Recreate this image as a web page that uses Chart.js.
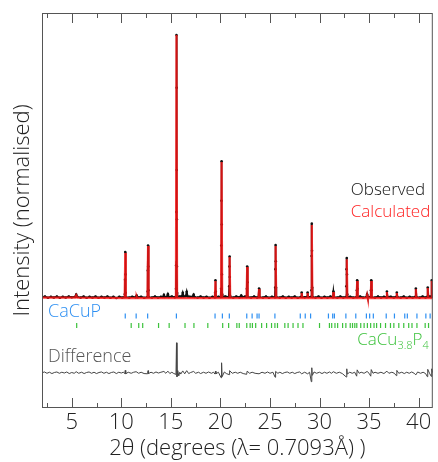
<!DOCTYPE html>
<html>
<head>
<meta charset="utf-8">
<script src="https://cdn.jsdelivr.net/npm/chart.js@4/dist/chart.umd.min.js"></script>
<style>
  html, body { margin: 0; padding: 0; background: #fff; }
  #holder { width: 438px; height: 462px; }
</style>
</head>
<body>
<div id="holder"><canvas id="rietveld"></canvas></div>
<script>
// 2theta (deg) vs intensity (% of strongest peak)
const xTickVals = [5, 10, 15, 20, 25, 30, 35, 40];

const calculated = [
  [2.0,0.2],[5.35,0.2],[5.45,1.0],[5.55,0.2],[10.34,0],[10.4,17.1],[10.46,0],[11.49,0],[11.55,0.6],[11.61,0],
  [12.64,0],[12.7,19.8],[12.76,0],[15.51,0],[15.57,100],[15.63,0],[19.44,0],[19.5,6.5],[19.56,0],
  [20.06,0],[20.12,51.7],[20.18,0],[20.87,0],[20.93,15.6],[20.99,0],[22.64,0],[22.7,11.8],[22.76,0],
  [23.84,0],[23.9,3.4],[23.96,0],[25.51,0],[25.57,19.8],[25.63,0],[28.14,0],[28.2,1.9],[28.26,0],
  [28.74,0],[28.8,1.9],[28.86,0],[29.16,0],[29.22,27.8],[29.28,0],[31.34,0],[31.4,2.3],[31.46,0],
  [32.69,0],[32.75,14.8],[32.81,0],[33.74,0],[33.8,6.5],[33.86,0],[34.74,0],[34.8,1.1],[34.86,0],
  [35.16,0],[35.22,6.5],[35.28,0],[36.74,0],[36.8,2.3],[36.86,0],[37.74,0],[37.8,1.9],[37.86,0],
  [39.66,0],[39.72,3.4],[39.78,0],[40.86,0],[40.92,3.8],[40.98,0],[41.26,0],[41.32,6.5],[41.43,0]
];

const observed = [
  [2.0,0.3],[2.3,0.6],[2.6,0.1],[2.9,0.5],[3.2,0.2],[3.5,0.6],[3.8,0.1],[4.1,0.5],[4.4,0.2],[4.7,0.6],
  [5.0,0.3],[5.35,0.5],[5.45,1.3],[5.55,0.5],[5.9,0.2],[6.2,0.6],[6.5,0.1],[6.8,0.5],[7.1,0.2],[7.4,0.6],
  [7.7,0.1],[8.0,0.5],[8.3,0.2],[8.6,0.6],[8.9,0.1],[9.2,0.5],[9.5,0.0],[9.8,0.5],[10.1,0.2],
  [10.33,0.4],[10.36,1.5],[10.38,7.0],[10.4,17.5],[10.42,9.0],[10.44,2.0],[10.47,0.4],
  [10.8,0.2],[11.1,0.5],[11.45,0.3],[11.55,1.0],[11.65,0.3],[12.0,0.5],[12.3,0.1],
  [12.63,0.4],[12.66,2.5],[12.68,10.5],[12.7,20.0],[12.72,12.0],[12.74,3.0],[12.77,0.4],
  [13.1,0.2],[13.4,0.6],[13.7,0.2],[14.0,0.5],[14.2,0.4],[14.3,1.2],[14.4,0.4],[14.6,0.5],[14.7,1.5],
  [14.8,0.4],[15.1,0.6],[15.4,0.3],
  [15.5,0.5],[15.52,3.5],[15.54,12.5],[15.555,32.7],[15.57,100],[15.585,80],[15.595,48.7],[15.605,30],
  [15.615,12],[15.63,2],[15.66,0.5],
  [15.9,0.6],[16.1,0.6],[16.2,2.0],[16.3,0.6],[16.5,0.7],[16.6,2.4],[16.7,0.6],[16.9,0.5],[17.2,0.5],
  [17.3,1.3],[17.4,0.4],[17.7,0.2],[18.0,0.6],[18.3,0.2],[18.6,0.5],[18.9,0.1],[19.2,0.5],
  [19.43,0.3],[19.47,2.0],[19.5,6.8],[19.53,2.5],[19.57,0.4],[19.8,0.5],[20.03,0.4],
  [20.07,3.5],[20.09,20],[20.105,37],[20.12,52],[20.135,28],[20.15,9],[20.17,1.5],[20.2,0.5],
  [20.5,0.6],[20.85,0.4],[20.89,4.5],[20.91,12],[20.93,15.8],[20.95,8],[20.97,1.0],[21.0,0.4],
  [21.3,0.2],[21.6,0.6],[21.9,0.3],[22.0,0.4],[22.1,1.0],[22.2,0.4],[22.5,0.6],
  [22.64,0.4],[22.67,3.5],[22.7,12.0],[22.73,6],[22.76,0.5],[23.1,0.2],[23.4,0.6],[23.7,0.2],
  [23.84,0.4],[23.9,3.6],[23.96,0.4],[24.3,0.2],[24.6,0.6],[24.9,0.1],[25.2,0.5],[25.5,0.3],
  [25.53,4],[25.55,11],[25.57,20.2],[25.59,14],[25.61,4],[25.64,0.4],[26.0,0.2],[26.3,0.6],[26.6,0.1],
  [26.9,0.5],[27.2,0.2],[27.5,0.6],[27.8,0.1],[28.14,0.5],[28.2,2.1],[28.26,0.4],[28.5,0.3],[28.74,0.5],
  [28.8,2.1],[28.86,0.4],[29.15,0.5],[29.18,3],[29.2,16],[29.22,28.3],[29.24,18],[29.26,4],[29.29,0.4],
  [29.6,0.2],[29.9,0.6],[30.2,0.1],[30.5,0.5],[30.8,0.2],[31.1,0.6],[31.34,0.3],[31.4,2.5],[31.46,0.4],
  [31.8,0.2],[32.1,0.6],[32.4,0.2],[32.68,0.5],
  [32.71,4.5],[32.73,11],[32.75,15.2],[32.77,9],[32.79,1.5],[32.82,0.4],[33.1,0.5],[33.4,0.2],
  [33.74,0.4],[33.77,3],[33.8,6.8],[33.83,3.5],[33.86,0.4],[34.1,0.6],[34.4,0.2],[34.74,0.5],[34.8,1.4],
  [34.86,0.4],[35.16,0.5],[35.19,3],[35.22,6.8],[35.25,3],[35.28,0.4],[35.6,0.2],[35.9,0.6],[36.2,0.2],
  [36.5,0.5],[36.74,0.3],[36.8,2.5],[36.86,0.4],[37.2,0.5],[37.5,0.2],[37.74,0.5],[37.8,2.1],[37.86,0.4],
  [38.2,0.2],[38.5,0.6],[38.8,0.1],[39.1,0.5],[39.4,0.2],[39.66,0.5],[39.72,3.6],[39.78,0.4],[40.1,0.2],
  [40.4,0.6],[40.7,0.2],[40.86,0.5],[40.92,4.0],[40.98,0.5],[41.15,0.6],[41.26,0.4],[41.32,6.8],[41.43,0.5]
];

// observed - calculated
const difference = [
  [2.0,0],[2.25,0.3],[2.5,-0.2],[2.75,0.2],[3.0,-0.3],[3.25,0.1],[3.5,0.3],[3.75,-0.2],[4.0,0.2],[4.25,-0.1],
  [4.5,0.3],[4.75,-0.3],[5.0,0.1],[5.25,-0.2],[5.45,0.4],[5.7,-0.2],[6.0,0.2],[6.25,-0.3],[6.5,0.1],[6.75,0.3],
  [7.0,-0.2],[7.25,0.2],[7.5,-0.3],[7.75,0.1],[8.0,0.3],[8.25,-0.2],[8.5,0.2],[8.75,-0.3],[9.0,0.1],[9.25,0.3],
  [9.5,-0.3],[9.75,0.2],[10.0,-0.1],[10.2,0.2],[10.35,-0.3],[10.4,0.9],[10.45,-0.4],[10.7,0.2],[11.0,-0.2],
  [11.25,0.2],[11.5,0.4],[11.75,-0.2],[12.0,0.2],[12.3,-0.3],[12.65,-0.4],[12.7,0.8],[12.75,-0.3],[13.0,0.2],
  [13.25,-0.2],[13.5,0.3],[13.75,-0.1],[14.0,0.2],[14.3,0.5],[14.5,-0.2],[14.7,0.6],[14.9,-0.3],[15.1,0.2],
  [15.3,-0.3],[15.52,-0.6],[15.57,11.4],[15.62,-1.5],[15.7,0.8],[15.8,-1.2],[15.9,0.2],[16.0,-0.5],
  [16.2,0.7],[16.4,-0.4],[16.6,0.8],[16.8,-0.3],[17.0,0.1],[17.3,0.5],[17.5,-0.2],[17.8,0.2],[18.0,-0.3],
  [18.3,0.2],[18.55,-0.2],[18.8,0.3],[19.1,-0.2],[19.3,0.2],[19.45,-0.5],[19.5,0.6],[19.55,-0.4],[19.8,0.2],
  [20.07,-1.9],[20.12,3.8],[20.17,-1.5],[20.4,0.3],[20.6,-0.3],[20.88,-0.7],[20.93,0.8],[21.2,-0.2],[21.5,0.2],
  [21.75,-0.2],[22.0,0.2],[22.3,-0.3],[22.65,-0.6],[22.7,0.6],[22.95,-0.2],[23.2,0.2],[23.5,-0.2],[23.9,-0.4],
  [24.2,0.2],[24.5,-0.2],[24.75,0.3],[25.0,-0.2],[25.3,0.2],[25.52,-1.7],[25.57,0.5],[25.8,-0.2],[26.0,0.2],
  [26.25,-0.3],[26.5,0.1],[26.75,0.3],[27.0,-0.2],[27.25,0.2],[27.5,-0.3],[27.75,0.1],[28.0,0.3],[28.2,-0.4],
  [28.5,0.2],[28.8,-0.4],[29.0,0.2],[29.17,-3.4],[29.22,1.9],[29.27,-1.0],[29.45,0.3],[29.7,-0.2],[30.0,0.2],
  [30.25,-0.3],[30.5,0.2],[30.75,-0.2],[31.0,0.3],[31.2,-0.2],[31.4,0.4],[31.7,-0.2],[32.0,0.2],[32.3,-0.3],
  [32.7,-1.6],[32.75,1.5],[32.8,-0.5],[33.05,0.2],[33.3,-0.2],[33.55,0.2],[33.75,-1.3],[33.8,1.1],[34.0,-0.2],
  [34.2,0.2],[34.5,-0.2],[34.8,0.5],[35.0,-0.2],[35.17,-1.3],[35.22,1.2],[35.4,-0.2],[35.6,0.2],[35.9,-0.2],
  [36.2,0.2],[36.5,-0.3],[36.8,0.6],[37.0,-0.2],[37.3,0.2],[37.55,-0.2],[37.75,-1.1],[37.8,0.9],[38.0,-0.2],
  [38.3,0.2],[38.55,-0.3],[38.8,0.2],[39.05,-0.2],[39.3,0.3],[39.55,-0.2],[39.72,-0.8],[39.9,0.3],[40.2,-0.2],
  [40.45,0.2],[40.7,-0.3],[40.88,-1.5],[40.92,1.3],[41.1,-0.2],[41.28,-1.4],[41.32,1.5],[41.43,0]
];

// reflection positions
const cacupRefl = [10.4, 11.5, 12.66, 15.56, 19.46, 20.2, 20.9, 22.66, 23.2, 23.7, 23.9, 25.5, 28.06, 28.56,
  29.1, 30.9, 31.33, 31.5, 32.66, 33.66, 34.73, 35.06, 35.43, 36.73, 37.56, 38.6, 38.86, 39.83, 40.73, 41.16];
const cacu38p4Refl = [5.5, 11.0, 11.76, 12.16, 13.76, 14.83, 16.43, 17.33, 18.73, 20.23, 20.83, 21.66, 21.9,
  22.66, 23.0, 23.23, 23.56, 24.16, 24.66, 25.16, 25.5, 25.76, 26.5, 26.83, 27.33, 27.83, 28.33, 30.0, 31.0,
  31.23, 31.56, 31.83, 32.33, 32.66, 33.1, 33.33, 33.56, 33.76, 34.16, 34.5, 34.83, 35.16, 35.5, 35.76, 36.16,
  36.66, 37.16, 37.5, 38.0, 38.5, 39.0, 39.33, 39.83, 40.66, 41.0];

const DIFF_OFFSET = -28.4;
const ROW_CACUP = -6.8;
const ROW_CACU38P4 = -10.4;

const FONT = '"Open Sans", "Noto Sans", sans-serif';
const BLUE = '#2d8ff2';
const GREEN = '#3cc23c';

const pts = a => a.map(p => ({x: p[0], y: p[1]}));

const frame = {
  id: 'frame',
  afterDraw(chart) {
    const {ctx, chartArea: a, scales: {x, y}} = chart;
    ctx.save();
    ctx.strokeStyle = '#555';
    ctx.lineWidth = 1;
    ctx.strokeRect(a.left + 0.5, a.top + 0.5, a.width - 1, a.height - 1);
    // inward ticks top and bottom
    ctx.beginPath();
    for (let v = 2.5; v <= 41; v += 2.5) {
      const px = Math.round(x.getPixelForValue(v)) + 0.5;
      const len = v % 5 === 0 ? 10 : 5;
      ctx.moveTo(px, a.bottom); ctx.lineTo(px, a.bottom - len);
      ctx.moveTo(px, a.top); ctx.lineTo(px, a.top + len);
    }
    ctx.stroke();

    ctx.textBaseline = 'alphabetic';
    ctx.font = '300 18px ' + FONT;
    ctx.fillStyle = BLUE;
    ctx.fillText('CaCuP', a.left + 6, y.getPixelForValue(ROW_CACUP) + 1);
    ctx.fillStyle = '#555';
    ctx.fillText('Difference', a.left + 6, y.getPixelForValue(DIFF_OFFSET) - 11);

    // CaCu3.8P4 with subscripts, right aligned
    ctx.fillStyle = GREEN;
    const parts = [['CaCu', 17, 0], ['3.8', 11, 4], ['P', 17, 0], ['4', 11, 4]];
    let w = 0;
    parts.forEach(([t, s]) => { ctx.font = '300 ' + s + 'px ' + FONT; w += ctx.measureText(t).width; });
    let tx = a.right - 4 - w;
    parts.forEach(([t, s, dy]) => {
      ctx.font = '300 ' + s + 'px ' + FONT;
      ctx.fillText(t, tx, 345 + dy);
      tx += ctx.measureText(t).width;
    });

    ctx.font = '300 17px ' + FONT;
    ctx.fillStyle = '#111';
    ctx.fillText('Observed', a.right - 82, 195);
    ctx.fillStyle = '#ff2020';
    ctx.fillText('Calculated', a.right - 82, 217);
    ctx.restore();
  }
};

new Chart(document.getElementById('rietveld'), {
  type: 'scatter',
  data: {
    datasets: [
      {
        label: 'Calculated',
        data: pts(calculated),
        showLine: true,
        borderColor: 'rgba(255,20,20,0.8)',
        borderWidth: 2.2,
        pointRadius: 0
      },
      {
        label: 'Observed',
        data: pts(observed),
        showLine: true,
        borderColor: '#111',
        borderWidth: 1.8,
        pointRadius: 1.3,
        pointBackgroundColor: '#111',
        pointBorderWidth: 0
      },
      {
        label: 'Difference',
        data: difference.map(p => ({x: p[0], y: p[1] + DIFF_OFFSET})),
        showLine: true,
        borderColor: '#444',
        borderWidth: 1,
        pointRadius: 0
      },
      {
        label: 'CaCuP',
        data: cacupRefl.map(v => ({x: v, y: ROW_CACUP})),
        pointStyle: 'line',
        rotation: 90,
        radius: 2.5,
        borderColor: BLUE,
        borderWidth: 1.2
      },
      {
        label: 'CaCu3.8P4',
        data: cacu38p4Refl.map(v => ({x: v, y: ROW_CACU38P4})),
        pointStyle: 'line',
        rotation: 90,
        radius: 2.5,
        borderColor: GREEN,
        borderWidth: 1.2
      }
    ]
  },
  options: {
    responsive: true,
    maintainAspectRatio: false,
    animation: false,
    layout: { padding: { top: 13, right: 2, left: 0, bottom: 0 } },
    plugins: { legend: { display: false }, tooltip: { enabled: false } },
    scales: {
      x: {
        type: 'linear',
        min: 2,
        max: 41.43,
        grid: { display: false, drawTicks: false },
        border: { display: false },
        afterFit: s => { s.height = 54; },
        afterBuildTicks: s => { s.ticks = xTickVals.map(v => ({value: v})); },
        ticks: { font: { family: FONT, size: 22, weight: 300 }, color: '#222', padding: 2, maxRotation: 0 },
        title: {
          display: true,
          text: '2θ (degrees (λ= 0.7093Å) )',
          font: { family: FONT, size: 22, weight: 300 },
          color: '#222',
          padding: { top: 0, bottom: 0 }
        }
      },
      y: {
        min: -41.8,
        max: 108.4,
        grid: { display: false, drawTicks: false },
        border: { display: false },
        ticks: { display: false },
        afterFit: s => { s.width = 42; },
        title: {
          display: true,
          text: 'Intensity (normalised)',
          font: { family: FONT, size: 22, weight: 300 },
          color: '#222',
          padding: { top: 10, bottom: 0 }
        }
      }
    }
  },
  plugins: [frame]
});
</script>
</body>
</html>
